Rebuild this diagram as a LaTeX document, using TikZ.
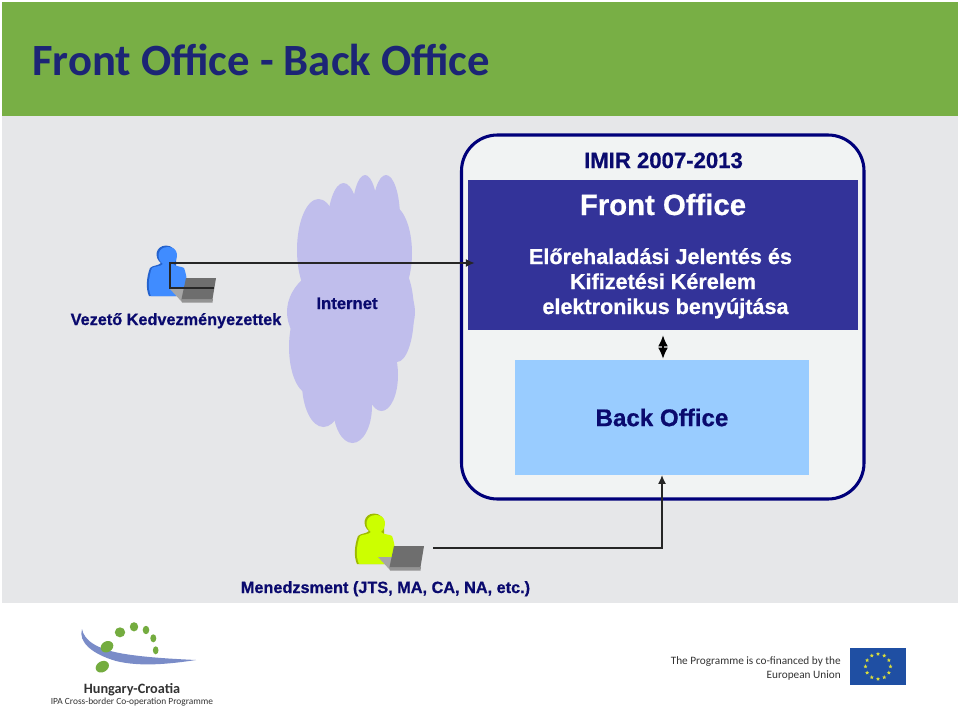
\documentclass[tikz,border=0pt]{standalone}
\usepackage{fontspec}
\setmainfont{Liberation Sans}[BoldFeatures={FakeBold=0.7}]
\newfontfamily\carl{Carlito}
\usetikzlibrary{arrows.meta,shapes.geometric}
\definecolor{bandgreen}{HTML}{78AF45}
\definecolor{pagegray}{HTML}{E6E7E9}
\definecolor{titleblue}{HTML}{1C2575}
\definecolor{navy}{HTML}{0A0A6E}
\definecolor{framec}{HTML}{00007A}
\definecolor{framefill}{HTML}{F1F3F3}
\definecolor{frontblue}{HTML}{333399}
\definecolor{backblue}{HTML}{99CCFF}
\definecolor{cloudc}{HTML}{C0BEEC}
\definecolor{logogreen}{HTML}{74AC3F}
\definecolor{logoblue}{HTML}{7A8CC8}
\definecolor{footgray}{HTML}{333333}
\definecolor{eublue}{HTML}{1F4FA3}
\definecolor{eustar}{HTML}{D8DC3C}
\definecolor{bluelight}{HTML}{408CFF}
\definecolor{bluedark}{HTML}{2462CD}
\definecolor{greenlight}{HTML}{CCFF00}
\definecolor{greendark}{HTML}{9EBA00}
\newcommand{\fsz}[1]{\fontsize{#1}{#1}\selectfont}
\newcommand{\personlaptop}[2]{%
  \fill[#2] (149,296) .. controls (146,290) and (146,278) .. (150,268)
    .. controls (153,265) and (158,266) .. (161,263)
    .. controls (154,258) and (155,246) .. (166,245.5)
    .. controls (172,245.5) and (176,250) .. (176,255) -- (176,296) -- cycle;
  \fill[#1] (151,296) .. controls (148,290) and (148,278) .. (152,268)
    .. controls (155,266) and (160,267) .. (163,264)
    .. controls (156,259) and (157,247) .. (168,247)
    .. controls (179,247) and (179,259) .. (173,264)
    .. controls (176,267) and (181,266) .. (184,268)
    .. controls (187,275) and (188,288) .. (186,296) -- cycle;
  \fill[black!35] (170,289) -- (186,289) -- (182,302) -- cycle;
  \fill[black!42] (181,299) -- (213,299) -- (212.5,302.5) -- (182,302.5) -- cycle;
  \fill[black!57] (186,278) -- (216,278) -- (212.5,299) -- (181.5,299) -- cycle;
}
\tikzset{
  txt/.style={inner sep=0pt,anchor=base,font=\bfseries},
  carltxt/.style={inner sep=0pt,anchor=base,text=footgray},
  conn/.style={draw=black!85,line width=0.8pt,-{Latex[length=6.5pt,width=6pt]}},
  puff/.style={fill=cloudc},
  eustarst/.style={star,star points=5,star point ratio=2.2,fill=eustar,inner sep=0pt,minimum size=3.2pt},
  box/.style={inner sep=0pt,anchor=center}
}
\begin{document}
\begin{tikzpicture}[x=0.75pt,y=-0.75pt]
\useasboundingbox (0,0) rectangle (960,710);
\fill[white] (0,0) rectangle (960,710);
\fill[pagegray] (2,116) rectangle (958,603);
\fill[bandgreen] (2,2) rectangle (958,116);
\node[inner sep=0pt,anchor=base west,text=titleblue,font=\carl\bfseries\fsz{33.5}] (title) at (32,75.5) {Front Office - Back Office};

% cloud
\foreach \cx/\cy/\rx/\ry in {318.5/250/21.5/51, 343.5/232/16.5/49, 365/218/13/43, 386/218/14/43, 391/253/21/48,
   351/312/64/50, 309.5/347/20.5/47, 323.5/383/21.5/44, 352.5/406/19.5/37, 381.5/375/16.5/36, 397/313/17/49,
   350/360/42/50, 355/260/45/50}
  \fill[puff] (\cx,\cy) ellipse [x radius=\rx*0.75pt, y radius=\ry*0.75pt];
\node[txt,text=navy,font=\bfseries\fsz{12.5}] (internet) at (347,309) {Internet};

% frame
\draw[draw=framec,line width=2.3pt,fill=framefill,rounded corners=27pt] (461.5,135) rectangle (864,499);
\node[txt,text=navy,font=\bfseries\fsz{16.6}] (imir) at (663.5,168) {IMIR 2007-2013};
\node[box,fill=frontblue,minimum width=292.5pt,minimum height=112.5pt] (front) at (663,255) {};
\node[box,fill=backblue,minimum width=220.5pt,minimum height=86.25pt,text=navy,font=\bfseries\fsz{18.1}] (back) at (662,417.5) {\raisebox{-1.2pt}{Back Office}};
\node[txt,text=white,font=\bfseries\fsz{22}] (fronttitle) at (663,215) {Front Office};
\node[txt,text=white,font=\bfseries\fsz{16.2}] (l1) at (660.5,264) {Előrehaladási Jelentés és};
\node[txt,text=white,font=\bfseries\fsz{16.2}] (l2) at (663,289) {Kifizetési Kérelem};
\node[txt,text=white,font=\bfseries\fsz{16.2}] (l3) at (665.5,314) {elektronikus benyújtása};

% people
\personlaptop{bluelight}{bluedark}
\begin{scope}[shift={(208,268)}]
\personlaptop{greenlight}{greendark}
\end{scope}
\node[txt,text=navy,font=\bfseries\fsz{12.2}] (vezeto) at (176,325) {Vezető Kedvezményezettek};
\node[txt,text=navy,font=\bfseries\fsz{12.2}] (menedz) at (385.5,593) {Menedzsment (JTS, MA, CA, NA, etc.)};

% connectors
\coordinate (laptopa) at (214,288);
\coordinate (frontin) at (474.5,263);
\coordinate (laptopb) at (433,548);
\draw[conn] (laptopa) -- (170,288) -- (170,263) -- (frontin);
\draw[conn] (laptopb) -| (back.south);
\draw[line width=1.6pt,{Latex[length=8.5pt,width=7.5pt]}-{Latex[length=8.5pt,width=7.5pt]},shorten <=3.6pt,shorten >=0.6pt] (front.south) -- (front.south |- back.north);

% logo left
\fill[logoblue] (82,629) .. controls (84,640) and (96,649) .. (122,653.5)
  .. controls (145,657.5) and (175,659) .. (196,660)
  .. controls (170,664) and (140,667) .. (116,661)
  .. controls (92,654) and (78,642) .. (82,629) -- cycle;
\fill[logogreen,rotate around={30:(102.3,666.7)}] (102.3,666.7) ellipse [x radius=7*0.75pt, y radius=5.4*0.75pt];
\fill[logogreen,rotate around={30:(107,646.7)}] (107,646.7) ellipse [x radius=6.6*0.75pt, y radius=5.4*0.75pt];
\fill[logogreen] (120,632.3) ellipse [x radius=5.2*0.75pt, y radius=5*0.75pt];
\fill[logogreen] (134,626.8) ellipse [x radius=4.2*0.75pt, y radius=4.6*0.75pt];
\fill[logogreen] (146,630) ellipse [x radius=3.3*0.75pt, y radius=4.2*0.75pt];
\fill[logogreen] (153.3,638.3) ellipse [x radius=3*0.75pt, y radius=4*0.75pt];
\fill[logogreen] (155.7,650.3) ellipse [x radius=2.8*0.75pt, y radius=4*0.75pt];
\node[carltxt,font=\carl\bfseries\fsz{10.7}] (hc) at (132,693) {Hungary-Croatia};
\node[carltxt,font=\carl\fsz{7.05}] (ipa) at (132,704) {IPA Cross-border Co-operation Programme};

% logo right
\node[carltxt,anchor=base east,font=\carl\fsz{8.45}] (prog) at (841,664) {The Programme is co-financed by the};
\node[carltxt,anchor=base east,font=\carl\fsz{8.45}] (eu) at (841,678) {European Union};
\fill[eublue] (850,648) rectangle (906,685);
\foreach \a in {0,30,...,330}
  \node[eustarst] at ({878+12.5*cos(\a)},{666.5+12.5*sin(\a)}) {};
\end{tikzpicture}
\end{document}
